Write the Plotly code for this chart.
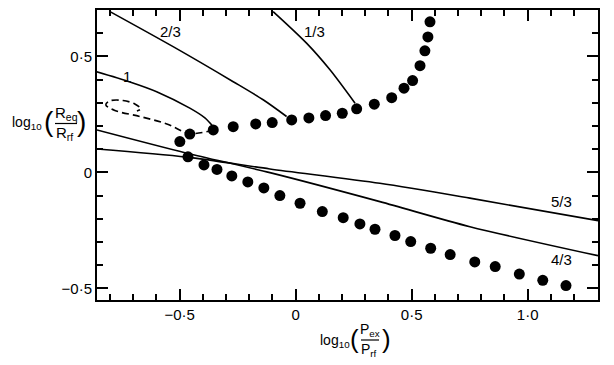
import plotly.graph_objects as go

# ---------------- data (log10 Pex/Prf , log10 Req/Rrf) ----------------
upper_x = [-0.456, -0.355, -0.269, -0.172, -0.101, -0.017, 0.057, 0.129, 0.201,
           0.263, 0.339, 0.414, 0.467, 0.504, 0.536, 0.557, 0.570, 0.579]
upper_y = [0.165, 0.183, 0.197, 0.209, 0.215, 0.226, 0.235, 0.245, 0.255,
           0.274, 0.294, 0.322, 0.363, 0.396, 0.460, 0.524, 0.584, 0.649]

lower_x = [-0.499, -0.464, -0.395, -0.339, -0.275, -0.206, -0.137, -0.068, 0.019,
           0.115, 0.205, 0.277, 0.342, 0.428, 0.496, 0.582, 0.666, 0.772, 0.860,
           0.964, 1.065, 1.165]
lower_y = [0.133, 0.067, 0.032, 0.013, -0.015, -0.041, -0.067, -0.100, -0.133,
           -0.169, -0.195, -0.222, -0.245, -0.272, -0.298, -0.327, -0.354, -0.386,
           -0.406, -0.438, -0.465, -0.488]

curve_23_x = [-0.800, -0.528, -0.269, -0.140, -0.039]
curve_23_y = [0.693, 0.542, 0.391, 0.313, 0.241]

curve_13_x = [-0.097, 0.047, 0.148, 0.256]
curve_13_y = [0.693, 0.557, 0.442, 0.298]

curve_1_x = [-0.858, -0.714, -0.599, -0.456, -0.391, -0.355]
curve_1_y = [0.434, 0.390, 0.348, 0.277, 0.235, 0.197]

dashed_x = [-0.355, -0.456, -0.555, -0.671, -0.779, -0.818, -0.801, -0.744, -0.693, -0.667, -0.684]
dashed_y = [0.183, 0.168, 0.209, 0.241, 0.267, 0.291, 0.308, 0.310, 0.295, 0.274, 0.265]

curve_43_x = [-0.856, -0.473, -0.111, 0.363, 0.751, 1.303]
curve_43_y = [0.183, 0.084, -0.001, -0.126, -0.234, -0.359]

curve_53_x = [-0.856, -0.469, -0.111, 0.363, 0.751, 1.303]
curve_53_y = [0.101, 0.066, 0.015, -0.047, -0.111, -0.208]

labels = ["2/3", "1/3", "1", "5/3", "4/3"]
label_x = [-0.541, 0.083, -0.728, 1.147, 1.147]
label_y = [0.607, 0.607, 0.413, -0.126, -0.374]

x_tickvals = [-0.5, 0, 0.5, 1.0]
x_ticktext = ["\u22120\u00b75", "0", "0\u00b75", "1\u00b70"]
y_tickvals = [-0.5, 0, 0.5]
y_ticktext = ["\u22120\u00b75", "0", "0\u00b75"]

# ---------------- figure ----------------
W, H = 614, 365
L, R, T, B = 97, 16, 10, 65
FONT = "Liberation Sans, Arial, sans-serif"

fig = go.Figure()
line_style = dict(color="black", width=1.6)
for xs, ys in [(curve_23_x, curve_23_y), (curve_13_x, curve_13_y), (curve_1_x, curve_1_y),
               (curve_43_x, curve_43_y), (curve_53_x, curve_53_y)]:
    fig.add_trace(go.Scatter(x=xs, y=ys, mode="lines", line=dict(shape="spline", smoothing=0.8, **line_style),
                             showlegend=False, hoverinfo="skip"))
fig.add_trace(go.Scatter(x=dashed_x, y=dashed_y, mode="lines",
                         line=dict(color="black", width=1.6, dash="7px,4px", shape="spline", smoothing=1.0),
                         showlegend=False, hoverinfo="skip"))
fig.add_trace(go.Scatter(x=upper_x, y=upper_y, mode="markers",
                         marker=dict(color="black", size=11), showlegend=False))
fig.add_trace(go.Scatter(x=lower_x, y=lower_y, mode="markers",
                         marker=dict(color="black", size=11), showlegend=False))

for t, x, y in zip(labels, label_x, label_y):
    fig.add_annotation(x=x, y=y, text=t, showarrow=False, xanchor="center", yanchor="middle",
                       font=dict(family=FONT, size=15, color="black"))

def px2paper(px, py):
    return (px - L) / (W - L - R), (H - B - py) / (H - T - B)

def ann(px, py, text, size):
    x, y = px2paper(px, py)
    fig.add_annotation(x=x, y=y, xref="paper", yref="paper", text=text, showarrow=False,
                       xanchor="center", yanchor="middle",
                       font=dict(family=FONT, size=size, color="black"))

def hline(px0, px1, py):
    x0, y = px2paper(px0, py)
    x1, _ = px2paper(px1, py)
    fig.add_shape(type="line", xref="paper", yref="paper", x0=x0, x1=x1, y0=y, y1=y,
                  line=dict(color="black", width=1.2))

# y-axis title: log10 (Req / Rrf)
ann(27, 123, "log<sub>10</sub>", 14)
ann(49, 121, "(", 28)
ann(66, 113, "R<sub>eq</sub>", 15)
hline(55, 77, 123.5)
ann(64, 133, "R<sub>rf</sub>", 15)
ann(81, 121, ")", 28)

# x-axis title: log10 (Pex / Prf)
ann(335, 341, "log<sub>10</sub>", 14)
ann(354, 339, "(", 26)
ann(370, 330, "P<sub>ex</sub>", 14)
hline(361, 379, 340)
ann(369, 350, "P<sub>rf</sub>", 14)
ann(386, 339, ")", 26)

axis_common = dict(showline=True, linecolor="black", linewidth=2, mirror="ticks",
                   ticks="inside", ticklen=11, tickwidth=1.5, tickcolor="black",
                   showgrid=False, zeroline=False, automargin=False,
                   tickfont=dict(family=FONT, size=15, color="black"))

fig.update_xaxes(range=[-0.856, 1.303], tickmode="array", tickvals=x_tickvals, ticktext=x_ticktext,
                 minor=dict(tickmode="linear", tick0=0, dtick=0.1, ticks="inside", ticklen=6,
                            tickwidth=1.5, tickcolor="black", showgrid=False),
                 **axis_common)
fig.update_yaxes(range=[-0.55, 0.70], tickmode="array", tickvals=y_tickvals, ticktext=y_ticktext,
                 minor=dict(tickmode="linear", tick0=0, dtick=0.1, ticks="inside", ticklen=6,
                            tickwidth=1.5, tickcolor="black", showgrid=False),
                 **axis_common)

fig.update_layout(width=W, height=H, margin=dict(l=L, r=R, t=T, b=B),
                  plot_bgcolor="white", paper_bgcolor="white", showlegend=False)

fig.write_html("out.html", config={"displayModeBar": False},
               post_script="document.body.style.margin='0';document.body.style.overflow='hidden';")
